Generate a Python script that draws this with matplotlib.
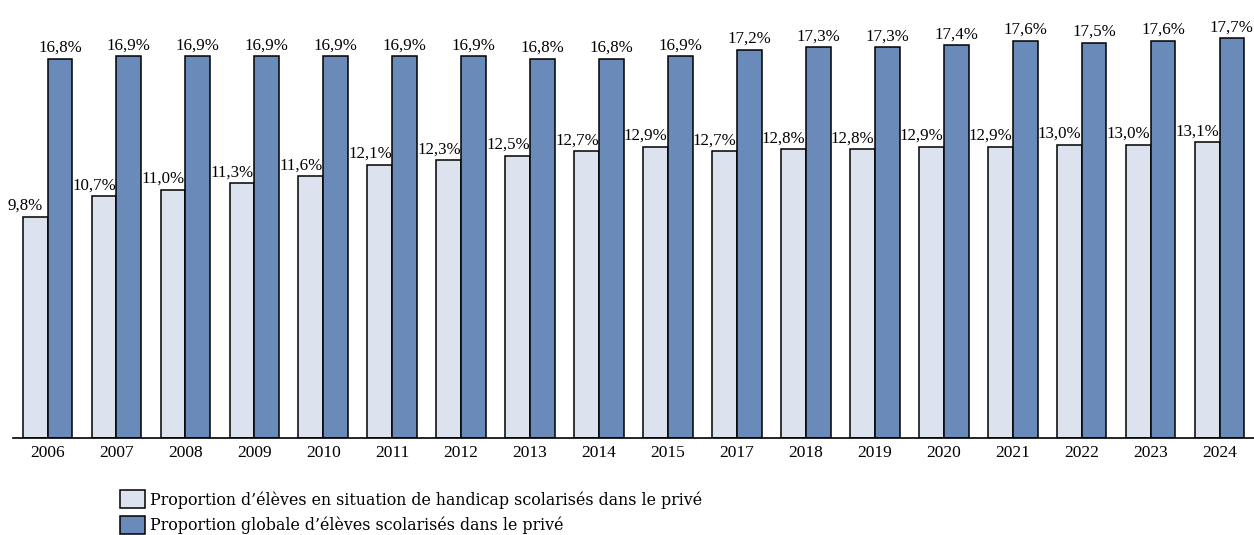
import matplotlib.pyplot as plt
import numpy as np

years = ["2006", "2007", "2008", "2009", "2010", "2011", "2012", "2013", "2014",
         "2015", "2017", "2018", "2019", "2020", "2021", "2022", "2023", "2024"]
handicap = [9.8, 10.7, 11.0, 11.3, 11.6, 12.1, 12.3, 12.5, 12.7,
            12.9, 12.7, 12.8, 12.8, 12.9, 12.9, 13.0, 13.0, 13.1]
globale = [16.8, 16.9, 16.9, 16.9, 16.9, 16.9, 16.9, 16.8, 16.8,
           16.9, 17.2, 17.3, 17.3, 17.4, 17.6, 17.5, 17.6, 17.7]
labels = ["Proportion d\u2019élèves en situation de handicap scolarisés dans le privé",
          "Proportion globale d\u2019élèves scolarisés dans le privé"]

plt.rcParams['font.family'] = ['Liberation Serif', 'DejaVu Serif']

fig = plt.figure(figsize=(12.54, 5.35), dpi=100)
ax = fig.add_axes([0.0104, 0.181, 0.9896, 0.819])

x = np.arange(len(years))
w = 0.36
b1 = ax.bar(x - w / 2, handicap, w, color="#dce3ee", edgecolor="black", linewidth=1.1, label=labels[0])
b2 = ax.bar(x + w / 2, globale, w, color="#6a8bb9", edgecolor="black", linewidth=1.1, label=labels[1])

fmt = lambda v: f"{v:.1f}%".replace(".", ",")
for r, v in zip(b1, handicap):
    ax.annotate(fmt(v), (r.get_x() + r.get_width() / 2, v), xytext=(-7, 2),
                textcoords="offset points", ha="center", va="bottom", fontsize=12.2)
for r, v in zip(b2, globale):
    ax.annotate(fmt(v), (r.get_x() + r.get_width() / 2, v), xytext=(0, 2),
                textcoords="offset points", ha="center", va="bottom", fontsize=12.2)

ax.set_xlim(-0.5, 17.5)
ax.set_ylim(0, 19.4)
ax.set_xticks(x)
ax.set_xticklabels(years, fontsize=12.5)
ax.tick_params(axis="x", length=0, pad=5)
ax.set_yticks([])
for s in ["top", "right", "left"]:
    ax.spines[s].set_visible(False)
ax.spines["bottom"].set_linewidth(1.2)

fig.legend(loc="upper left", bbox_to_anchor=(0.089, 0.098), frameon=False,
           prop={"family": "DejaVu Serif", "size": 11.4},
           handlelength=1.6, handleheight=1.35, labelspacing=0.45, handletextpad=0.35,
           borderpad=0)

fig.savefig("out.png", dpi=100)
